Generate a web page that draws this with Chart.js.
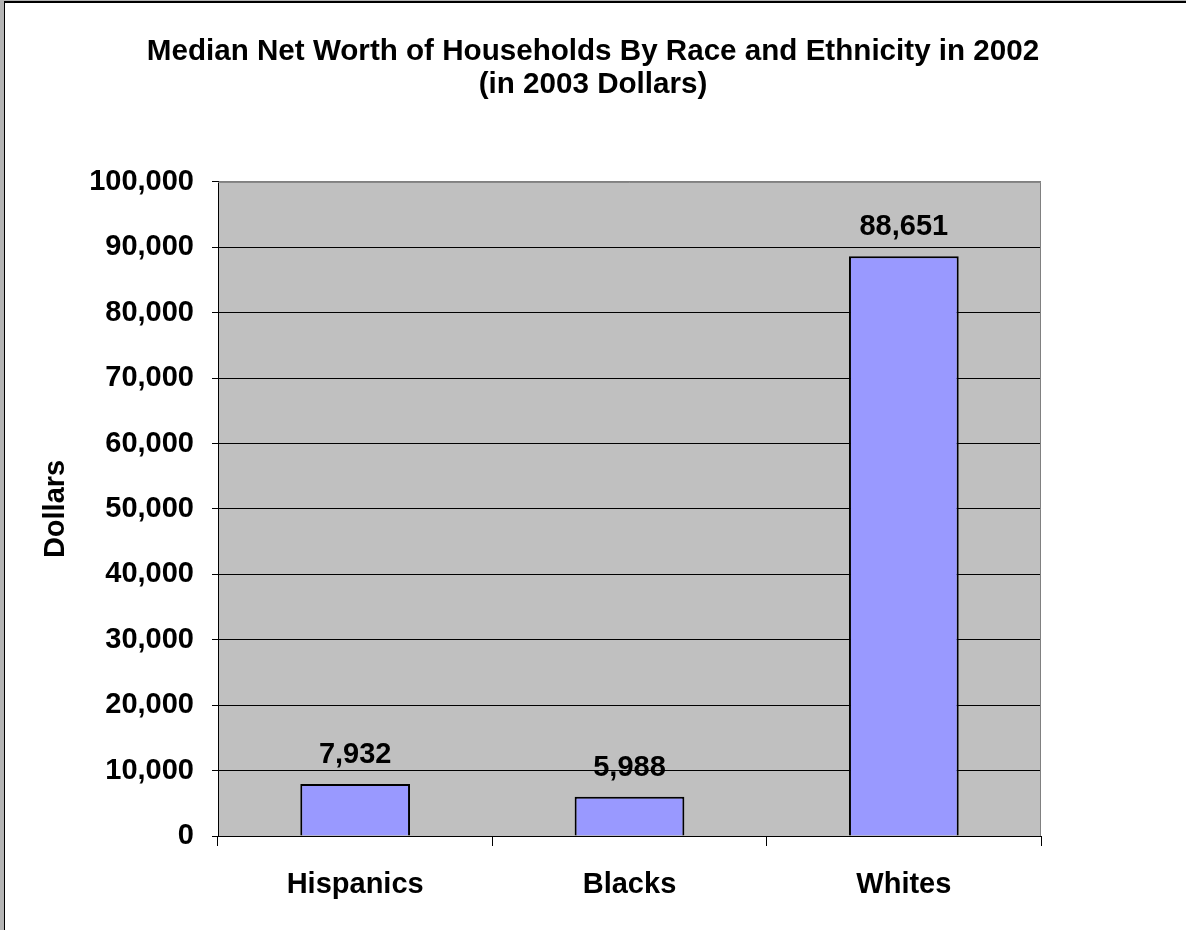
<!DOCTYPE html>
<html>
<head>
<meta charset="utf-8">
<script src="https://cdn.jsdelivr.net/npm/chart.js@4"></script>
<style>
  body { margin: 0; background: #fff; }
  #frame { position: absolute; left: 0; top: 0; width: 1186px; height: 930px; background: #b4b4b4; }
  #inner { position: absolute; left: 4px; top: 1px; right: 0; bottom: 0; background: #fff;
           border-left: 1px solid #000; border-top: 2px solid #000; }
  #wrap { position: absolute; left: 0; top: 0; width: 1186px; height: 930px; }
</style>
</head>
<body>
<div id="frame"><div id="inner"></div></div>
<div id="wrap"><canvas id="netWorthChart"></canvas></div>
<script>
const groups = ["Hispanics", "Blacks", "Whites"];
const netWorth = [7932, 5988, 88651];
const yTicks = [0, 10000, 20000, 30000, 40000, 50000, 60000, 70000, 80000, 90000, 100000];

const FONT = "'Liberation Sans', Arial, sans-serif";
const fmt = v => v.toLocaleString('en-US');

// gray plot background + gray top/right border like the Excel chart
const plotBg = {
    id: 'plotBg',
    beforeDraw(chart) {
        const a = chart.chartArea, c = chart.ctx;
        c.save();
        c.fillStyle = '#c0c0c0';
        c.fillRect(a.left, a.top, a.right - a.left, a.bottom - a.top);
        c.restore();
    },
    beforeDatasetsDraw(chart) {
        const a = chart.chartArea, c = chart.ctx;
        c.save();
        c.strokeStyle = '#808080';
        c.lineWidth = 1;
        c.beginPath();
        c.moveTo(a.left, a.top + 0.5);
        c.lineTo(a.right - 0.5, a.top + 0.5);
        c.lineTo(a.right - 0.5, a.bottom);
        c.stroke();
        c.restore();
    }
};

// value labels above each bar
const barLabels = {
    id: 'barLabels',
    afterDatasetsDraw(chart) {
        const c = chart.ctx;
        const meta = chart.getDatasetMeta(0);
        c.save();
        c.font = 'bold 29px ' + FONT;
        c.fillStyle = '#000';
        c.textAlign = 'center';
        c.textBaseline = 'alphabetic';
        meta.data.forEach((bar, i) => {
            c.fillText(fmt(netWorth[i]), bar.x, bar.y - 21);
        });
        c.restore();
    }
};

new Chart(document.getElementById('netWorthChart'), {
    type: 'bar',
    data: {
        labels: groups,
        datasets: [{
            data: netWorth,
            backgroundColor: '#9999ff',
            borderColor: '#000',
            borderWidth: 2,
            barPercentage: 0.4,
            categoryPercentage: 1
        }]
    },
    options: {
        responsive: true,
        maintainAspectRatio: false,
        animation: false,
        layout: { padding: 0 },
        plugins: {
            legend: { display: false },
            tooltip: { enabled: false },
            title: {
                display: true,
                text: ["Median Net Worth of Households By Race and Ethnicity in 2002", "(in 2003 Dollars)"],
                color: '#000',
                font: { family: FONT, size: 29.6, weight: 'bold', lineHeight: 1.13 },
                padding: { top: 35, bottom: 80 }
            }
        },
        scales: {
            x: {
                grid: {
                    offset: true,
                    drawOnChartArea: false,
                    color: '#000',
                    tickLength: 10
                },
                border: { color: '#000', width: 1 },
                ticks: {
                    color: '#000',
                    padding: 22,
                    font: { family: FONT, size: 29, weight: 'bold' }
                },
                afterFit: s => { s.height = 94; }
            },
            y: {
                min: 0,
                max: 100000,
                afterBuildTicks: s => { s.ticks = yTicks.map(v => ({ value: v })); },
                grid: {
                    color: ctx => ctx.tick && ctx.tick.value === 100000 ? '#808080' : '#000',
                    tickColor: '#000',
                    tickLength: 6
                },
                border: { color: '#000', width: 1 },
                ticks: {
                    color: '#000',
                    padding: 18,
                    font: { family: FONT, size: 29, weight: 'bold' },
                    callback: v => fmt(v)
                },
                title: {
                    display: true,
                    text: 'Dollars',
                    color: '#000',
                    padding: { top: 39, bottom: 0 },
                    font: { family: FONT, size: 29, weight: 'bold' }
                },
                afterFit: s => { s.width = 218; }
            },
            spare: {
                position: 'right',
                display: true,
                grid: { display: false },
                border: { display: false },
                ticks: { display: false },
                afterFit: s => { s.width = 145; }
            }
        }
    },
    plugins: [plotBg, barLabels]
});
</script>
</body>
</html>
